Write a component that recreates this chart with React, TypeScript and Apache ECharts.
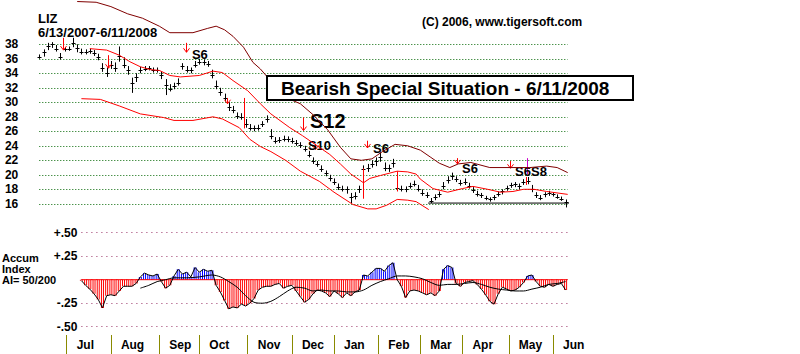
import React, { useEffect, useRef } from 'react';
import * as echarts from 'echarts';

const FONT = '"Liberation Sans", Arial, Helvetica, sans-serif';

const ticker = 'LIZ';
const dateRange = '6/13/2007-6/11/2008';
const copyright = '(C) 2006, www.tigersoft.com';
const headline = 'Bearish Special Situation - 6/11/2008';
const aiTitle = 'Accum\nIndex\nAI= 50/200';

// trading-day index axis (0 = 6/13/2007, 251 = 6/11/2008)
const lastDay = 251;
const priceStepDays = 2;
const monthNames = ['Jul', 'Aug', 'Sep', 'Oct', 'Nov', 'Dec', 'Jan', 'Feb', 'Mar', 'Apr', 'May', 'Jun'];
const monthStartDays = [13, 34, 57, 76, 99, 120, 140, 161, 181, 201, 223, 244];

const priceMin = 16;
const priceMax = 38;
const priceInterval = 2;

// price bars, every 2 trading days from day 0
const priceClose = [
  36.2, 36.9, 37.8, 38.0, 37.4, 36.2, 37.3, 37.4, 38.2, 37.5,
  37.0, 36.9, 37.1, 36.8, 36.2, 34.8, 34.1, 35.1, 34.8, 36.4,
  35.2, 34.4, 32.6, 33.5, 34.5, 34.6, 34.7, 34.4, 34.5, 33.8,
  32.4, 31.9, 32.3, 32.7, 35.0, 34.5, 34.4, 35.2, 35.6, 35.5,
  35.3, 33.8, 32.2, 31.4, 30.6, 29.3, 29.0, 28.1, 28.0, 27.0,
  26.5, 26.4, 26.5, 27.0, 27.7, 25.3, 24.7, 24.8, 25.0, 24.9,
  24.7, 24.4, 24.1, 23.6, 22.8, 21.9, 21.5, 20.8, 20.2, 19.6,
  19.0, 18.3, 18.1, 18.0, 16.9, 17.1, 18.0, 20.8, 21.0, 21.5,
  21.9, 22.5, 21.0, 20.9, 21.6, 18.2, 18.1, 18.0, 18.5, 18.8,
  18.1, 17.5, 17.2, 16.4, 16.9, 17.3, 18.5, 19.3, 19.8, 19.4,
  18.9, 19.0, 18.5, 17.9, 17.4, 17.2, 16.8, 16.6, 16.9, 17.4,
  17.7, 18.2, 18.6, 18.7, 18.4, 19.0, 19.2, 18.0, 17.2, 16.8,
  17.3, 17.5, 17.3, 17.0, 16.7, 16.2,
];
const priceHigh = [
  36.6, 37.3, 38.2, 38.3, 37.9, 36.8, 37.6, 37.7, 38.9, 38.0,
  37.4, 37.3, 37.4, 37.2, 36.7, 35.4, 34.8, 35.7, 35.5, 37.7,
  36.2, 35.0, 33.4, 34.0, 34.9, 35.0, 35.0, 34.8, 34.8, 34.3,
  33.2, 32.5, 32.7, 33.3, 35.4, 35.0, 34.8, 35.7, 36.0, 35.9,
  35.7, 34.5, 33.0, 32.0, 31.2, 30.0, 29.5, 28.6, 28.5, 27.7,
  27.0, 26.8, 26.9, 27.4, 28.2, 26.3, 25.2, 25.2, 25.4, 25.3,
  25.1, 24.8, 24.5, 24.0, 23.3, 22.4, 21.9, 21.3, 20.6, 20.0,
  19.5, 18.8, 18.5, 18.4, 17.5, 17.6, 18.5, 21.3, 21.5, 22.0,
  22.4, 23.1, 21.7, 21.4, 22.2, 18.8, 18.5, 18.4, 18.9, 19.2,
  18.6, 18.0, 17.6, 16.8, 17.3, 17.7, 19.0, 19.8, 20.3, 19.8,
  19.3, 19.5, 18.9, 18.3, 17.8, 17.5, 17.1, 16.9, 17.2, 17.7,
  18.0, 18.5, 18.9, 19.0, 18.8, 19.4, 19.7, 18.6, 17.6, 17.2,
  17.6, 17.8, 17.6, 17.3, 17.0, 16.6,
];
const priceLow = [
  36.0, 36.3, 37.2, 37.5, 37.0, 35.9, 37.0, 37.1, 37.6, 36.9,
  36.6, 36.6, 36.7, 36.4, 35.8, 34.2, 33.5, 34.6, 34.2, 35.6,
  34.7, 33.8, 31.3, 32.8, 34.0, 34.3, 34.4, 34.1, 34.1, 33.2,
  31.0, 31.5, 31.8, 32.3, 34.5, 34.1, 34.0, 34.8, 35.2, 35.1,
  34.9, 33.3, 31.8, 30.9, 30.1, 28.8, 28.5, 27.7, 27.6, 26.5,
  26.1, 26.0, 26.1, 26.6, 27.2, 24.9, 24.3, 24.4, 24.6, 24.5,
  24.3, 24.0, 23.7, 23.2, 22.4, 21.5, 21.1, 20.4, 19.8, 19.1,
  18.6, 17.9, 17.7, 17.4, 16.1, 16.6, 17.5, 19.5, 20.4, 21.0,
  21.2, 21.8, 20.5, 20.4, 21.0, 17.8, 17.7, 17.6, 18.1, 18.4,
  17.7, 17.1, 16.8, 16.1, 16.5, 16.9, 18.0, 18.8, 19.3, 19.0,
  18.5, 18.6, 18.1, 17.5, 17.0, 16.8, 16.5, 16.3, 16.5, 17.0,
  17.3, 17.8, 18.2, 18.3, 18.0, 18.6, 18.7, 17.6, 16.8, 16.5,
  16.9, 17.1, 17.0, 16.7, 16.4, 15.5,
];

// bands: [day, price]
const upperBand = [
  [18, 43.9], [27, 43.8], [34, 43.2], [42, 42.2], [49, 41.6], [57, 40.5], [62, 39.6], [73, 39.6],
  [80, 40.2], [84, 40.5], [88, 40.0], [92, 39.1], [97, 37.6], [101.5, 35.5], [105, 34.6], [108, 33.6],
  [114, 31.8], [120, 30.3], [124, 29.8], [130, 28.3], [137, 26.2], [143, 23.8], [148, 22.2], [153, 22.0],
  [158, 22.2], [163, 23.2], [169, 24.2], [175, 24.0], [181, 23.4], [186, 22.4], [190, 21.6], [195, 21.0],
  [199, 21.5], [205, 21.7], [214, 21.0], [224, 21.0], [233, 21.0], [241, 21.2], [246, 21.0], [251, 20.3],
];
const middleBand = [
  [24, 37.4], [32, 37.2], [38, 36.5], [43, 35.6], [48, 34.9], [53, 34.5], [57, 34.4], [62, 33.7],
  [67, 33.5], [76, 33.7], [82.5, 34.3], [87, 34.1], [92, 33.0], [99, 31.6], [105, 29.8], [110, 28.4],
  [119, 26.5], [125, 25.4], [132, 24.0], [138, 22.8], [143, 21.5], [148, 20.1], [154, 18.9], [157, 19.5],
  [162, 19.9], [170, 20.5], [175, 20.4], [179, 20.1], [181, 19.4], [187, 18.1], [194, 17.6], [201, 18.1],
  [206, 18.4], [213, 18.0], [219, 17.6], [225, 17.7], [230, 18.0], [235, 18.0], [241, 17.7], [251, 17.3],
];
const lowerBand = [
  [20, 30.5], [29, 30.4], [38, 29.5], [48, 28.4], [59, 27.9], [64, 27.5], [73, 27.5], [82.5, 28.0],
  [87, 27.7], [95, 26.5], [100, 24.9], [105, 23.9], [110, 23.2], [117, 22.0], [124, 20.5], [133, 19.1],
  [140, 17.6], [149, 15.9], [156, 15.3], [160, 15.3], [165, 15.8], [170, 16.6], [175, 16.5], [179, 16.3],
  [185, 15.2],
];
const supportLine = [[184.7, 16.1], [258, 16.1]];

// signals: arrows [day, top price, bottom price]
const signalArrows = [
  [11.1, 38.9, 37.2], [32.6, 36.5, 34.7], [69.7, 38.2, 36.9], [89.2, 30.6, 29.8],
  [125.3, 27.9, 26.1], [131, 24.2, 23.5], [155.7, 24.7, 23.7], [198.4, 22.3, 21.5], [223.6, 21.9, 20.9],
];
const signalBars = [[97.3, 30.6, 26.4], [153.8, 20.9, 16.7], [169.9, 20.5, 17.7], [231.2, 19.7, 18.6]];
const signalS8Bar = [[231.7, 22.3, 20.1]];
const signalLabels = ['S6', 'S12', 'S10', 'S6', 'S6', 'S6S8'];
const signalLabelDays = [72.5, 128.6, 127.6, 158.5, 200.8, 226];
const signalLabelPrices = [36.6, 27.4, 24.1, 23.6, 20.9, 20.5];

// Accumulation index, every 2 trading days from day 20
const aiStartDay = 20;
const aiValues = [
  -0.01, -0.06, -0.10, -0.15, -0.21, -0.30, -0.17, -0.16, -0.17, -0.12,
  -0.07, -0.07, -0.07, -0.04, 0.03, 0.07, 0.05, 0.04, 0.06, -0.02,
  -0.09, -0.06, 0.04, 0.11, 0.06, 0.08, 0.03, 0.13, 0.08, 0.11,
  0.09, 0.10, -0.06, -0.13, -0.22, -0.31, -0.29, -0.30, -0.26, -0.28,
  -0.25, -0.20, -0.11, -0.08, -0.07, -0.07, -0.05, -0.04, -0.09, -0.07,
  -0.06, -0.12, -0.18, -0.24, -0.21, -0.15, -0.11, -0.12, -0.14, -0.18,
  -0.12, -0.15, -0.19, -0.14, -0.17, -0.13, -0.11, 0.05, 0.04, 0.08,
  0.12, 0.12, 0.09, 0.15, 0.18, 0.00, -0.07, -0.19, -0.12, -0.11,
  -0.12, -0.14, -0.16, -0.14, -0.17, -0.12, 0.11, 0.15, 0.13, -0.04,
  -0.07, -0.03, -0.02, -0.01, -0.05, -0.10, -0.16, -0.23, -0.26, -0.15,
  -0.08, -0.10, -0.12, -0.11, -0.08, -0.03, 0.04, 0.05, -0.02, -0.07,
  -0.08, -0.05, -0.07, -0.05, -0.04, -0.11,
];
const aiMovingAvg = [
  [48, -0.09], [52, -0.06], [56, -0.02], [60, 0.0], [64, 0.02], [70, 0.02], [76, 0.03], [82, 0.05],
  [86, 0.03], [90, -0.02], [94, -0.08], [98, -0.17], [102, -0.24], [106, -0.25], [110, -0.23], [114, -0.18],
  [118, -0.12], [122, -0.08], [126, -0.09], [130, -0.12], [134, -0.11], [138, -0.12], [142, -0.12], [146, -0.13],
  [150, -0.13], [154, -0.11], [158, -0.06], [162, -0.02], [166, 0.01], [170, 0.04], [174, 0.04], [178, 0.03],
  [182, 0.01], [186, -0.03], [190, -0.06], [194, -0.05], [198, -0.05], [202, -0.04], [206, -0.03], [210, -0.05],
  [214, -0.08], [218, -0.10], [222, -0.11], [226, -0.12], [230, -0.12], [234, -0.10], [238, -0.08], [242, -0.05],
  [246, -0.04], [250, -0.02],
];
const aiMin = -0.5;
const aiMax = 0.5;
const aiInterval = 0.25;

function buildOption(): any {
  const priceData = priceClose.map((c, i) => [i * priceStepDays, c, priceHigh[i], priceLow[i]]);
  const aiData = aiValues.map((v, i) => [aiStartDay + i * 2, v]);
  const aiLine = aiValues.map((v, i) => [aiStartDay + i * 2, v]);
  const labelData = signalLabels.map((t, i) => [signalLabelDays[i], signalLabelPrices[i], i]);
  const lineSeries = (data: number[][], color: string, extra: any = {}) => ({
    type: 'line', xAxisIndex: 0, yAxisIndex: 0, data, symbol: 'none', showSymbol: false, silent: true, clip: false,
    lineStyle: { color, width: 1 }, itemStyle: { color }, ...extra,
  });
  const vLines = (data: number[][], color: string, head: boolean) => ({
    type: 'custom', xAxisIndex: 0, yAxisIndex: 0, data, silent: true, clip: false,
    renderItem: (_p: any, api: any) => {
      const t = api.coord([api.value(0), api.value(1)]);
      const b = api.coord([api.value(0), api.value(2)]);
      const x = Math.round(t[0]) + 0.5;
      const children: any[] = [
        { type: 'line', shape: { x1: x, y1: t[1], x2: x, y2: b[1] }, style: { stroke: color, lineWidth: 1 } },
      ];
      if (head) {
        children.push({ type: 'polyline', shape: { points: [[x - 3, b[1] - 4], [x, b[1]], [x + 3, b[1] - 4]] }, style: { stroke: color, lineWidth: 1, fill: 'none' } });
      }
      return { type: 'group', children };
    },
  });
  const aiBars = (gap: string) => ({
    type: 'bar', xAxisIndex: 1, yAxisIndex: 1, data: aiData, silent: true,
    barWidth: 1, barGap: gap, large: false,
    itemStyle: { color: (p: any) => (p.value[1] >= 0 ? '#0000ff' : '#ff0000'), borderWidth: 0 },
  });

  return {
    animation: false,
    backgroundColor: '#ffffff',
    grid: [
      { left: 39.3, top: 44.3, width: 528.4, height: 159.5 },
      { left: 81.4, top: 232.7, width: 486.3, height: 94 },
      { left: 39.3, top: 334, width: 528.4, height: 1 },
    ],
    xAxis: [
      { gridIndex: 0, type: 'value', min: 0, max: lastDay, show: false },
      { gridIndex: 1, type: 'value', min: aiStartDay, max: lastDay, show: false },
      {
        gridIndex: 2, type: 'value', min: 0, max: lastDay, position: 'bottom',
        axisLine: { show: false }, splitLine: { show: false },
        axisTick: { show: true, customValues: monthStartDays, length: 19, lineStyle: { color: '#8a8a00', width: 1 } },
        axisLabel: {
          customValues: monthStartDays,
          formatter: (v: number) => { const k = monthStartDays.indexOf(v); return k >= 0 ? monthNames[k] : ''; },
          align: 'left', padding: [0, 0, 0, 10], margin: 4,
          fontFamily: FONT, fontWeight: 'bold', fontSize: 12, color: '#000',
        },
      },
    ],
    yAxis: [
      {
        gridIndex: 0, type: 'value', min: priceMin, max: priceMax, interval: priceInterval,
        axisLine: { show: false }, axisTick: { show: false },
        axisLabel: { margin: 21, fontFamily: FONT, fontWeight: 'bold', fontSize: 12, color: '#000' },
        splitLine: { show: true, lineStyle: { color: '#006600', type: [1, 2], width: 1 } },
      },
      {
        gridIndex: 1, type: 'value', min: aiMin, max: aiMax, interval: aiInterval,
        axisLine: { show: false }, axisTick: { show: false },
        axisLabel: {
          margin: 4, fontFamily: FONT, fontWeight: 'bold', fontSize: 12, color: '#000',
          formatter: (v: number) => (Math.abs(v) < 1e-9 ? '' : (v > 0 ? '+' : '-') + Math.abs(v).toFixed(2).slice(1)),
        },
        splitLine: { show: true, lineStyle: { color: '#993366', type: [1, 4], width: 1 } },
      },
      { gridIndex: 2, type: 'value', show: false, min: 0, max: 1 },
    ],
    graphic: [
      { type: 'text', x: 38, y: 18, style: { text: ticker, font: `bold 13px ${FONT}`, lineHeight: 13, fill: '#000', verticalAlign: 'middle' } },
      { type: 'text', x: 38, y: 32.5, style: { text: dateRange, font: `bold 13px ${FONT}`, lineHeight: 13, fill: '#000', verticalAlign: 'middle' } },
      { type: 'text', x: 422, y: 22, style: { text: copyright, font: `bold 12px ${FONT}`, fill: '#000', verticalAlign: 'middle' } },
      { type: 'rect', z: 50, shape: { x: 267, y: 76, width: 366, height: 24 }, style: { fill: '#fff', stroke: '#000', lineWidth: 2 } },
      { type: 'text', z: 51, x: 281, y: 88.5, style: { text: headline, font: `bold 19px ${FONT}`, fill: '#000', verticalAlign: 'middle' } },
      { type: 'text', x: 2, y: 252.5, style: { text: aiTitle, font: `bold 11px ${FONT}`, fill: '#000', lineHeight: 11, verticalAlign: 'top' } },
    ],
    series: [
      lineSeries(upperBand, '#800000'),
      lineSeries(middleBand, '#ff0000'),
      lineSeries(lowerBand, '#ff0000'),
      {
        type: 'custom', xAxisIndex: 0, yAxisIndex: 0, data: priceData, silent: true, clip: false,
        renderItem: (_p: any, api: any) => {
          const d = api.value(0);
          const hi = api.coord([d, api.value(2)]);
          const lo = api.coord([d, api.value(3)]);
          const cl = api.coord([d, api.value(1)]);
          const x = Math.round(hi[0]) + 0.5;
          const yc = Math.round(cl[1]) + 0.5;
          return {
            type: 'group', children: [
              { type: 'line', shape: { x1: x, y1: hi[1], x2: x, y2: lo[1] }, style: { stroke: '#000', lineWidth: 1 } },
              { type: 'line', shape: { x1: x - 2, y1: yc, x2: x + 2, y2: yc }, style: { stroke: '#000', lineWidth: 1 } },
            ],
          };
        },
      },
      lineSeries(supportLine, '#000000'),
      vLines(signalBars, '#ff0000', false),
      vLines(signalS8Bar, '#cc00cc', false),
      vLines(signalArrows, '#ff0000', true),
      {
        type: 'custom', xAxisIndex: 0, yAxisIndex: 0, data: labelData, silent: true, clip: false,
        renderItem: (_p: any, api: any) => {
          const p = api.coord([api.value(0), api.value(1)]);
          const txt = signalLabels[api.value(2)];
          const size = txt === 'S12' ? 20 : 13;
          return { type: 'text', x: p[0], y: p[1], style: { text: txt, font: `bold ${size}px ${FONT}`, fill: '#000', align: 'left', verticalAlign: 'middle' } };
        },
      },
      aiBars('100%'),
      aiBars('100%'),
      {
        type: 'line', xAxisIndex: 1, yAxisIndex: 1, data: [[aiStartDay, 0], [lastDay, 0]], symbol: 'none', showSymbol: false, silent: true,
        lineStyle: { color: '#ff0000', width: 1 }, itemStyle: { color: '#ff0000' },
      },
      {
        type: 'line', xAxisIndex: 1, yAxisIndex: 1, data: aiLine, symbol: 'none', showSymbol: false, silent: true,
        lineStyle: { color: '#000000', width: 1 }, itemStyle: { color: '#000000' },
      },
      {
        type: 'line', xAxisIndex: 1, yAxisIndex: 1, data: aiMovingAvg, symbol: 'none', showSymbol: false, silent: true, smooth: 0.3,
        lineStyle: { color: '#000000', width: 1 }, itemStyle: { color: '#000000' },
      },
    ],
  };
}

export default function App() {
  const ref = useRef<HTMLDivElement>(null);
  useEffect(() => {
    if (!ref.current) return;
    const chart = echarts.init(ref.current, undefined, { renderer: 'svg', width: 800, height: 354 });
    chart.setOption(buildOption());
    return () => chart.dispose();
  }, []);
  return (
    <div
      ref={ref}
      style={{ position: 'fixed', left: 0, top: 0, width: 800, height: 354, background: '#fff' }}
    />
  );
}
